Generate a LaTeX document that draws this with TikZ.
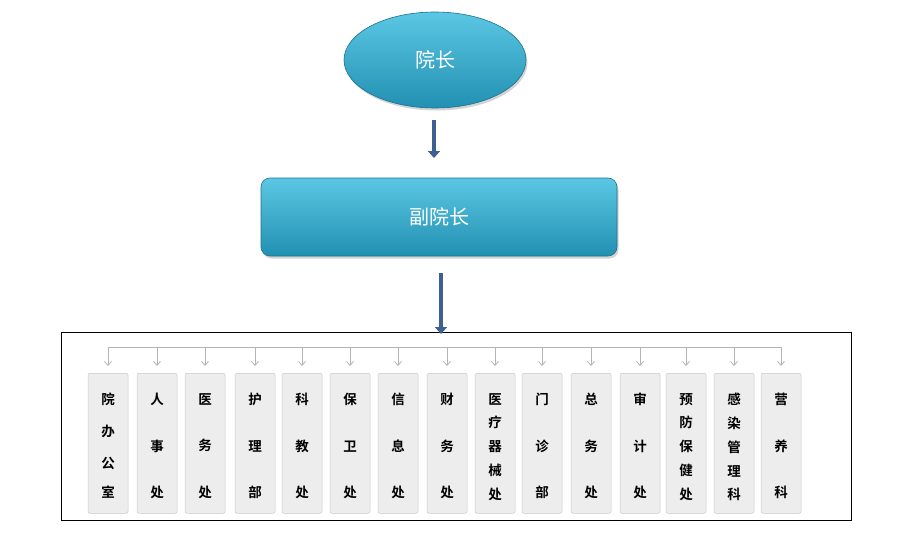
\documentclass[tikz,border=0pt]{standalone}
\usepackage{fontspec}
\newfontfamily\cjk{Noto Sans CJK SC}
\newfontfamily\cjkb{Noto Sans CJK SC Bold}
\usetikzlibrary{shapes.geometric,arrows.meta,shadows,calc}
\definecolor{cyanA}{HTML}{3EBDDF}
\definecolor{cyanB}{HTML}{2290B2}
\definecolor{arrowblue}{HTML}{3E5F92}
\definecolor{colfill}{HTML}{EDEDED}
\definecolor{colline}{HTML}{B4B4B4}
\tikzset{
  head/.style={top color=cyanA!85!white, bottom color=cyanB, draw=cyanB!80!black, line width=0.6pt,
    drop shadow={shadow xshift=1.5pt, shadow yshift=-2.5pt, opacity=0.35},
    text=white, font=\cjk\fontsize{20}{22}\selectfont},
  bigarrow/.style={arrowblue, line width=4.5pt, -{Triangle[length=7pt,width=12pt]}},
  column/.style={draw=colfill!85!black, line width=0.5pt, fill=colfill, rounded corners=2pt,
    minimum width=40pt, minimum height=140pt, anchor=north, inner sep=0pt},
  coltext/.style={font=\cjkb\fontsize{13.5}{16}\selectfont, text=black},
  smallarrow/.style={colline, line width=0.8pt, -{Straight Barb[length=4pt,width=7pt]}},
}
\begin{document}
\begin{tikzpicture}[x=1pt,y=-1pt]
\useasboundingbox (0,0) rectangle (914,543);
% top nodes
\node[head, ellipse, minimum width=182pt, minimum height=96pt] (dean) at (435,60) {院长};
\node[head, rectangle, rounded corners=9pt, minimum width=356pt, minimum height=78pt] (vice) at (439,217) {副院长};
% frame
\node[draw=black, line width=0.8pt, minimum width=790pt, minimum height=188pt, inner sep=0pt] (frame) at (456,426) {};
% big arrows
\coordinate (a1s) at (434,120);
\coordinate (a1e) at (434,158);
\draw[bigarrow] (a1s) -- (a1e);
\coordinate (a2s) at (441,273);
\draw[bigarrow] (a2s) -- (441,334);
% bus
\coordinate (busL) at (108,347);
\coordinate (busR) at (781,347);
\draw[colline, line width=0.8pt] (busL) -- (busR);
% columns
\foreach \x/\n/\t in {
 108/c1/{院\\[16pt]办\\[16pt]公\\[13pt]室},
 157/c2/{人\\[30.5pt]事\\[30.5pt]处},
 205/c3/{医\\[30.5pt]务\\[30.5pt]处},
 255/c4/{护\\[30.5pt]理\\[30.5pt]部},
 302/c5/{科\\[30.5pt]教\\[30.5pt]处},
 350/c6/{保\\[30.5pt]卫\\[30.5pt]处},
 398/c7/{信\\[30.5pt]息\\[30.5pt]处},
 447/c8/{财\\[30.5pt]务\\[30.5pt]处},
 495/c9/{医\\[7.8pt]疗\\[7.8pt]器\\[7.8pt]械\\[7.8pt]处},
 542/c10/{门\\[30.5pt]诊\\[30.5pt]部},
 591/c11/{总\\[30.5pt]务\\[30.5pt]处},
 640/c12/{审\\[30.5pt]计\\[30.5pt]处},
 686/c13/{预\\[7.8pt]防\\[7.8pt]保\\[7.8pt]健\\[7.8pt]处},
 734/c14/{感\\[7.8pt]染\\[7.8pt]管\\[7.8pt]理\\[7.8pt]科},
 781/c15/{营\\[30.5pt]养\\[30.5pt]科}}{
  \node[column] (\n) at (\x,373) {};
  \node[coltext, align=center, anchor=north, inner sep=0pt] (\n t) at (\x,393) {\t};
  \coordinate (\n b) at (\x,347);
  \draw[smallarrow] (\n b) -- ($(\n.north)+(0,-7)$);
}
\end{tikzpicture}
\end{document}
